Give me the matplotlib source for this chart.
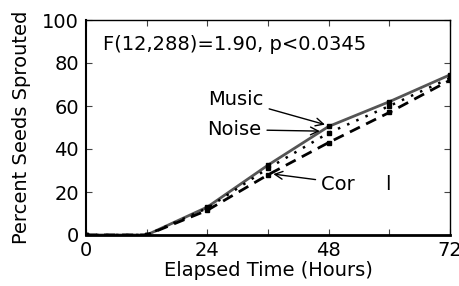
import numpy as np
import matplotlib.pyplot as plt

plt.rcParams['font.family'] = ['DejaVu Sans']
plt.rcParams['font.size'] = 14

# Data
hours = [0, 12, 24, 36, 48, 60, 72]
music = [0, 0, 13, 32.5, 50.5, 62, 74.5]
noise = [0, 0, 12.5, 31, 47.5, 60, 73]
control = [0, 0, 11.5, 28, 43, 57, 72]

fig = plt.figure(figsize=(4.59, 2.86), dpi=100)
ax = fig.add_axes([86/459, 1 - 235/286, 364/459, 215/286])

ax.plot(hours, music, color='#555555', lw=2, ls='-', marker='s', ms=2.5, mfc='black', mec='black')
ax.plot(hours, noise, color='black', lw=1.8, ls=(0, (1, 3)), marker='s', ms=2.5)
ax.plot(hours, control, color='black', lw=2, ls=(0, (4, 2.5)), marker='s', ms=3.5)

ax.set_xlim(0, 72)
ax.set_ylim(0, 100)
ax.set_xticks(np.arange(0, 73, 24))
ax.set_xticks(np.arange(0, 73, 12), minor=True)
ax.set_yticks(np.arange(0, 101, 20))
ax.tick_params(which='both', direction='in', top=True, right=True, length=4, width=0.8, color='#444444')
ax.tick_params(axis='x', pad=4)
ax.tick_params(axis='y', pad=5)

for s in ['top', 'right']:
    ax.spines[s].set_linewidth(1)
ax.spines['left'].set_linewidth(1.5)
ax.spines['bottom'].set_linewidth(2)

ax.set_xlabel('Elapsed Time (Hours)', labelpad=1)
ax.set_ylabel('Percent Seeds Sprouted', labelpad=8)

ax.text(3.3, 88.5, 'F(12,288)=1.90, p<0.0345', ha='left', va='center')

arrow = dict(arrowstyle='->', color='black', lw=1)
ax.annotate('Music', xy=(47.8, 51), xytext=(24.2, 63), ha='left', va='center', arrowprops=arrow)
ax.annotate('Noise', xy=(46.8, 48.3), xytext=(24, 49), ha='left', va='center', arrowprops=arrow)
ax.annotate('Cor     l', xy=(36.5, 28.5), xytext=(46.5, 23.3), ha='left', va='center', arrowprops=arrow)

fig.savefig('out.png', dpi=100)
